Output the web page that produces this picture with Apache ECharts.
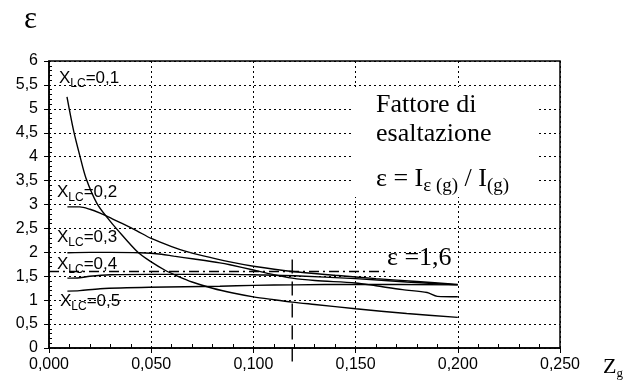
<!DOCTYPE html>
<html><head><meta charset="utf-8">
<script src="https://cdn.jsdelivr.net/npm/echarts@6/dist/echarts.min.js"></script>
<style>html,body{margin:0;padding:0;background:#fff}#c{width:632px;height:380px}</style>
</head><body><div id="c"></div>
<script>
// ---- data ----
const xTickLabels = ['0,000','0,050','0,100','0,150','0,200','0,250'];
const yTickLabels = ['0','0,5','1','1,5','2','2,5','3','3,5','4','4,5','5','5,5','6'];
const curveNames = ['0,1','0,2','0,3','0,4','0,5'];

const zg01 = [0.0088,0.012,0.0152,0.0181,0.0235,0.029,0.0333,0.0435,0.05,0.057,0.062,0.07,0.08,0.09,0.1,0.11,0.119,0.13,0.15,0.175,0.2];
const eps01 = [5.25,4.55,4.0,3.55,3.02,2.7,2.48,2.0,1.8,1.62,1.52,1.38,1.25,1.15,1.07,1.01,0.96,0.91,0.82,0.72,0.64];

const zg02 = [0.009,0.015,0.02,0.025,0.029,0.036,0.043,0.05,0.06,0.067,0.075,0.0885,0.1,0.119,0.14,0.16,0.18,0.2];
const eps02 = [2.95,2.95,2.9,2.82,2.74,2.6,2.45,2.29,2.12,2.02,1.93,1.8,1.71,1.6,1.52,1.45,1.39,1.33];

const zg03 = [0.009,0.02,0.03,0.0445,0.055,0.061,0.071,0.0836,0.0885,0.1,0.106,0.119,0.13,0.15,0.16,0.173,0.185,0.19,0.2];
const eps03 = [1.99,2.0,2.0,1.99,1.96,1.92,1.86,1.78,1.74,1.63,1.57,1.46,1.41,1.36,1.3,1.22,1.16,1.08,1.07];

const zg04 = [0.009,0.015,0.02,0.03,0.05,0.07,0.0885,0.1,0.12,0.15,0.175,0.2];
const eps04 = [1.46,1.47,1.5,1.53,1.54,1.54,1.54,1.53,1.51,1.45,1.38,1.32];

const zg05 = [0.009,0.015,0.025,0.049,0.0836,0.1,0.12,0.15,0.2];
const eps05 = [1.19,1.2,1.24,1.27,1.29,1.31,1.32,1.33,1.32];

const epsRefValue = 1.6;       // horizontal reference ε = 1,6
const epsRefZg = [0, 0.165];
const zgMarker = 0.119;         // vertical dashed marker
const zgMarkerEps = [1.85, -0.33];

// ---- build ----
const zip = (xs, ys) => xs.map((x, i) => [x, ys[i]]);
const curves = [zip(zg01,eps01), zip(zg02,eps02), zip(zg03,eps03), zip(zg04,eps04), zip(zg05,eps05)];

const chart = echarts.init(document.getElementById('c'), null, {renderer:'canvas'});
const SANS = 'Liberation Sans, Arial, sans-serif';
const SERIF = 'Liberation Serif, Times New Roman, serif';

const series = curves.map((d, i) => ({
  name: 'XLC=' + curveNames[i], type: 'line', data: d, showSymbol: false, symbol: 'none',
  smooth: 0.3, xAxisIndex: 0, yAxisIndex: 0, z: 3,
  lineStyle: {color: '#000', width: 1.4}
}));
series.push({
  type: 'line', data: epsRefZg.map(x => [x, epsRefValue]), symbol: 'none', z: 3,
  lineStyle: {color: '#000', width: 1.4, type: [10, 4, 2, 4]}
});
series.push({
  type: 'line', data: zgMarkerEps.map(y => [zgMarker, y]), symbol: 'none', z: 3, clip: false,
  lineStyle: {color: '#000', width: 1.4, type: [14, 8]}
});

const grid = {left: 49, right: 72, top: 61, bottom: 32, show: true, borderColor: '#000', borderWidth: 1.5, containLabel: false};

const xLabelFmt = v => { const i = Math.round(v / 0.05); return xTickLabels[i] !== undefined ? xTickLabels[i] : ''; };
const yLabelFmt = v => { const i = Math.round(v / 0.5); return yTickLabels[i] !== undefined ? yTickLabels[i] : ''; };

const option = {
  animation: false,
  backgroundColor: '#fff',
  grid: grid,
  xAxis: [{
    type: 'value', min: 0, max: 0.25, interval: 0.05, position: 'bottom',
    axisLine: {show: true, onZero: false, lineStyle: {color: '#000', width: 1.5}},
    axisTick: {show: true, inside: false, length: 5, lineStyle: {color: '#000'}},
    axisLabel: {formatter: xLabelFmt, color: '#000', fontSize: 16, fontFamily: SANS, margin: 9},
    splitLine: {show: true, lineStyle: {color: '#000', width: 1, type: [2, 3]}}
  }, {
    type: 'value', min: 0, max: 0.25, interval: 0.05, position: 'bottom',
    axisLine: {show: false, onZero: false},
    axisTick: {show: false, inside: true},
    minorTick: {show: true, splitNumber: 5, length: 4, lineStyle: {color: '#000', width: 1}},
    axisLabel: {show: false}, splitLine: {show: false}
  }],
  yAxis: [{
    type: 'value', min: 0, max: 6, interval: 0.5, position: 'left',
    axisLine: {show: true, onZero: false, lineStyle: {color: '#000', width: 1.5}},
    axisTick: {show: true, inside: false, length: 5, lineStyle: {color: '#000'}},
    axisLabel: {formatter: yLabelFmt, color: '#000', fontSize: 16, fontFamily: SANS, margin: 11},
    splitLine: {show: true, lineStyle: {color: '#000', width: 1, type: [2, 3]}}
  }, {
    type: 'value', min: 0, max: 6, interval: 0.5, position: 'left',
    axisLine: {show: false, onZero: false},
    axisTick: {show: false, inside: true},
    minorTick: {show: true, splitNumber: 5, length: 3, lineStyle: {color: '#000', width: 1}},
    axisLabel: {show: false}, splitLine: {show: false}
  }],
  series: series
};
chart.setOption(option);

// ---- annotations ----
const xlcRich = {
  a: {fontSize: 17, fontFamily: SANS, color: '#000', lineHeight: 24},
  b: {fontSize: 12, fontFamily: SANS, color: '#000', lineHeight: 12, verticalAlign: 'bottom'}
};
// label anchor positions (left x, baseline y)
const labelPos = [[59, 84], [57, 198], [57, 243], [57, 270], [60, 307]];
const graphics = [];
graphics.push({type: 'rect', shape: {x: 352, y: 87, width: 186, height: 110}, style: {fill: '#fff'}, z: 1, silent: true});
curveNames.forEach((n, i) => {
  graphics.push({type: 'text', z: 5, x: labelPos[i][0], y: labelPos[i][1] - 17.9,
    style: {text: '{a|X}{b|LC}{a|=' + n + '}', rich: xlcRich, align: 'left', verticalAlign: 'top', textAlign: 'left', textVerticalAlign: 'top'}});
});
const serifText = (txt, x, baseline, size) => ({type: 'text', z: 5, x: x, y: baseline - size * 0.34,
  style: {text: txt, fontSize: size, fontFamily: SERIF, fill: '#000', align: 'left', verticalAlign: 'middle', textAlign: 'left', textVerticalAlign: 'middle'}});
graphics.push(serifText('Fattore di', 376, 114, 26));
graphics.push(serifText('esaltazione', 376, 143, 26));
graphics.push(serifText('ε =1,6', 387, 267, 26));
graphics.push(serifText('ε', 24, 30, 31));
graphics.push({type: 'text', z: 5, x: 376, y: 188 - 24.8,
  style: {text: '{m|ε = I}{s|ε (g)}{m| / I}{s|(g)}', align: 'left', verticalAlign: 'top', textAlign: 'left', textVerticalAlign: 'top',
    rich: {m: {fontSize: 26, fontFamily: SERIF, color: '#000', lineHeight: 32},
           s: {fontSize: 19, fontFamily: SERIF, color: '#000', lineHeight: 18, verticalAlign: 'bottom'}}}});
graphics.push({type: 'text', z: 5, x: 603, y: 375 - 19.4,
  style: {text: '{m|Z}{s|g}', align: 'left', verticalAlign: 'top', textAlign: 'left', textVerticalAlign: 'top',
    rich: {m: {fontSize: 22, fontFamily: SERIF, color: '#000', lineHeight: 24},
           s: {fontSize: 13, fontFamily: SERIF, color: '#000', lineHeight: 16, verticalAlign: 'bottom'}}}});
chart.setOption({graphic: {elements: graphics}});
</script>
</body></html>
